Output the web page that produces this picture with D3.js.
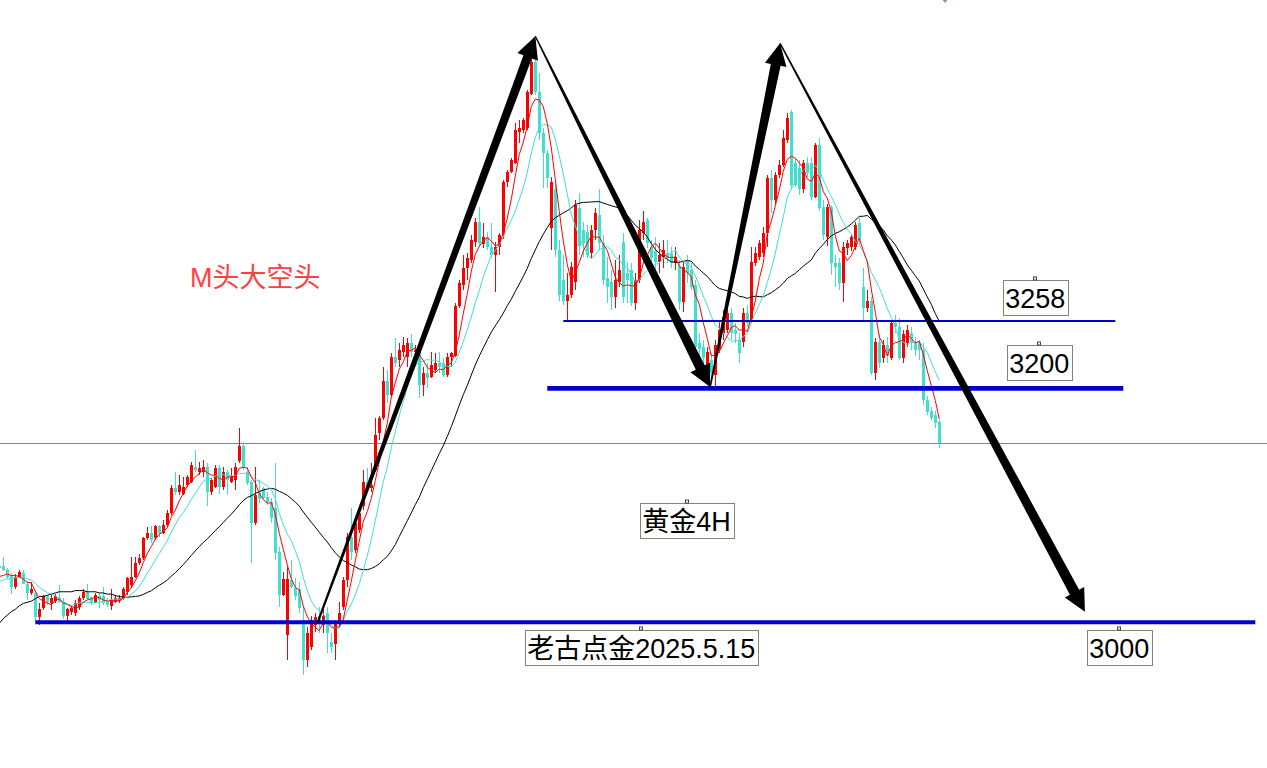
<!DOCTYPE html>
<html><head><meta charset="utf-8">
<script src="https://cdn.jsdelivr.net/npm/d3@7"></script>
<style>html,body{margin:0;padding:0;background:#fff;overflow:hidden}svg{display:block;background:#fff}</style>
</head><body>
<svg id="chart" width="1267" height="768"></svg>
<script>
// ---- DATA (gold 4H, [open, high, low, close]) ----
const candles = [
[3047,3049,3044,3045],[3047,3055,3043,3044],[3044,3045,3036,3038],[3039,3041,3023,3029],[3029,3040,3027,3038],
[3038,3044,3037,3042],[3041,3044,3032,3032],[3032,3034,3018,3024],[3024,3033,3022,3027],[3024,3026,3000,3003],
[3003,3015,2997,3010],[3011,3022,3009,3021],[3021,3022,3014,3016],[3015,3022,3009,3020],[3017,3023,3015,3021],
[3020,3031,3015,3016],[3016,3020,3002,3004],[3004,3011,2998,3010],[3008,3013,3005,3011],[3007,3018,3004,3015],
[3012,3021,3009,3020],[3020,3027,3018,3025],[3025,3032,3018,3019],[3020,3021,3014,3016],[3016,3024,3015,3022],
[3021,3024,3011,3018],[3021,3029,3014,3015],[3016,3020,3012,3014],[3013,3027,3009,3018],[3016,3022,3015,3020],
[3017,3022,3015,3020],[3020,3029,3018,3027],[3025,3038,3022,3037],[3031,3055,3028,3038],[3038,3055,3037,3050],
[3050,3057,3048,3054],[3054,3072,3052,3071],[3071,3080,3069,3075],[3075,3081,3067,3069],[3071,3082,3069,3081],
[3081,3082,3072,3075],[3075,3086,3074,3082],[3082,3095,3080,3092],[3092,3116,3091,3114],[3114,3127,3108,3110],
[3110,3125,3108,3116],[3109,3123,3108,3115],[3116,3125,3115,3123],[3119,3136,3118,3133],[3132,3146,3127,3129],
[3127,3136,3125,3131],[3127,3138,3123,3132],[3132,3135,3098,3110],[3110,3122,3108,3121],[3115,3133,3114,3131],
[3131,3133,3109,3115],[3115,3132,3112,3127],[3127,3129,3108,3121],[3119,3131,3118,3123],[3121,3135,3112,3132],
[3137,3165,3135,3150],[3150,3153,3129,3131],[3127,3132,3116,3118],[3119,3121,3050,3084],[3084,3132,3082,3108],
[3110,3121,3101,3104],[3114,3115,3104,3105],[3106,3110,3099,3102],[3102,3105,3084,3088],[3097,3135,3052,3058],
[3059,3063,3012,3022],[3022,3042,3021,3036],[2988,3046,2967,3036],[3035,3052,3028,3029],[3028,3037,3018,3021],
[3027,3033,3007,3011],[3001,3012,2954,2967],[2967,2995,2961,2990],[2978,3004,2975,3001],[2997,3007,2991,3003],
[3004,3012,2990,2998],[2997,3010,2990,3004],[3007,3012,2973,2990],[2982,2990,2973,2978],[2980,3001,2967,2998],
[2998,3016,2995,3007],[3012,3038,3009,3035],[3035,3075,3029,3072],[3072,3097,3052,3059],[3061,3088,3058,3084],
[3078,3095,3075,3092],[3098,3129,3095,3119],[3119,3131,3110,3114],[3114,3135,3110,3116],[3129,3174,3127,3159],
[3161,3175,3155,3174],[3174,3217,3172,3205],[3205,3215,3186,3193],[3193,3229,3192,3226],[3226,3242,3217,3221],
[3223,3238,3217,3232],[3230,3243,3226,3236],[3226,3242,3217,3238],[3238,3245,3226,3230],[3230,3236,3225,3232],
[3232,3236,3191,3202],[3202,3217,3192,3212],[3212,3221,3199,3208],[3209,3230,3208,3219],[3215,3229,3212,3221],
[3221,3230,3212,3217],[3221,3225,3209,3210],[3210,3229,3209,3226],[3226,3230,3217,3229],[3227,3272,3226,3269],
[3269,3292,3268,3289],[3287,3313,3283,3302],[3302,3315,3292,3310],[3309,3330,3306,3326],[3324,3345,3320,3341],
[3341,3354,3320,3323],[3322,3340,3319,3328],[3328,3333,3317,3320],[3320,3340,3310,3313],[3313,3324,3281,3320],
[3320,3332,3313,3330],[3330,3377,3327,3375],[3375,3386,3371,3384],[3384,3396,3383,3394],[3392,3426,3391,3420],
[3418,3428,3409,3422],[3420,3430,3417,3428],[3422,3454,3420,3452],[3451,3481,3450,3478],[3478,3497,3450,3452],
[3452,3469,3411,3417],[3417,3422,3370,3400],[3400,3403,3370,3379],[3336,3380,3317,3375],[3369,3374,3311,3317],
[3317,3326,3274,3279],[3292,3313,3270,3274],[3274,3298,3257,3279],[3279,3307,3276,3303],[3290,3360,3283,3356],
[3353,3366,3313,3321],[3334,3341,3311,3323],[3333,3339,3310,3313],[3315,3339,3310,3334],[3334,3353,3326,3349],
[3347,3369,3317,3323],[3323,3330,3287,3292],[3293,3311,3272,3286],[3290,3300,3266,3277],[3277,3309,3268,3292],
[3290,3313,3286,3300],[3324,3332,3272,3277],[3298,3307,3272,3292],[3300,3306,3269,3272],[3272,3298,3266,3292],
[3292,3343,3289,3334],[3332,3351,3326,3341],[3343,3345,3319,3323],[3320,3326,3306,3310],[3316,3328,3298,3307],
[3307,3323,3298,3313],[3311,3326,3302,3317],[3315,3326,3306,3310],[3315,3320,3302,3306],[3306,3320,3300,3311],
[3304,3309,3266,3273],[3273,3307,3264,3303],[3309,3313,3289,3298],[3300,3306,3283,3286],[3287,3292,3229,3234],
[3238,3246,3226,3233],[3234,3240,3221,3225],[3216,3234,3212,3230],[3223,3229,3206,3212],[3210,3240,3200,3236],
[3233,3257,3229,3249],[3246,3266,3240,3260],[3249,3268,3246,3263],[3263,3268,3240,3246],[3249,3255,3238,3245],
[3240,3246,3221,3229],[3239,3268,3234,3263],[3263,3270,3251,3255],[3257,3320,3255,3307],[3306,3320,3304,3315],
[3311,3326,3309,3323],[3315,3337,3311,3332],[3332,3381,3320,3379],[3379,3386,3349,3360],[3360,3384,3357,3381],
[3381,3394,3379,3390],[3390,3420,3388,3413],[3411,3434,3409,3430],[3435,3437,3369,3373],[3392,3396,3371,3373],
[3387,3394,3364,3369],[3369,3394,3366,3392],[3392,3397,3380,3383],[3392,3397,3360,3363],[3363,3409,3362,3407],
[3407,3413,3351,3353],[3354,3360,3326,3330],[3328,3357,3321,3354],[3354,3356,3296,3306],[3306,3313,3286,3303],
[3306,3310,3283,3289],[3289,3324,3273,3320],[3319,3326,3313,3323],[3320,3330,3316,3328],[3320,3341,3317,3339],
[3340,3345,3321,3326],[3286,3302,3257,3268],[3268,3283,3264,3274],[3274,3277,3210,3212],[3212,3242,3206,3239],
[3239,3245,3216,3221],[3225,3240,3221,3236],[3236,3243,3221,3227],[3225,3257,3223,3255],[3255,3262,3246,3251],
[3251,3259,3223,3225],[3225,3249,3221,3245],[3238,3253,3234,3249],[3246,3251,3232,3238],[3238,3243,3227,3232],
[3238,3240,3223,3232],[3232,3238,3185,3189],[3189,3192,3176,3179],[3180,3183,3172,3174],[3176,3180,3165,3169],
[3170,3172,3148,3152]
];
// moving-average values read for the first bars (window reaches before the visible range)
const ma5Lead  = [3038,3039,3040,3039];
const ma10Lead = [3034,3035,3036,3036,3037,3037,3037,3036,3035];
const ma30Lead = [2998,3002,3005,3008,3010,3013,3015,3016,3017,3019,3021,3021,3022,3023,3024,3025,3025,3025,3025,3026,3026,3026,3025,3025,3025,3024,3024,3023,3023];
// horizontal levels (price), their labels
const levelPrices = [3256.5, 3199, 2999];
const levelLabels = ["3258", "3200", "3000"];
// M-pattern path: [bar index, price]
const mPath = [[79.5,2998],[134,3500],[177.7,3200],[195.2,3494],[271.4,3008]];
// text notes
const noteTexts = ["黄金4H", "老古点金2025.5.15"];
const titleText = "M头大空头";

// ---- LAYOUT / STYLE ----
const W = 1267, H = 768;
const svg = d3.select("#chart");
const x = d3.scaleLinear().domain([0, 1]).range([-0.7, 3.3]);
const y = d3.scaleLinear().domain([3000, 3500]).range([621, 36.3]);
const UP = "#ff0000", DOWN = "#40e0d0", BLUE = "#0000cd";
const FONT = "'Liberation Sans','Noto Sans CJK SC',sans-serif";

const closes = candles.map(d => d[3]);
function sma(period, lead) {
  return closes.map((c, i) => i < period - 1 ? lead[i] : d3.mean(closes.slice(i - period + 1, i + 1)));
}

// current price line
const lastY = Math.round(y(closes[closes.length - 1])) + 0.5;
svg.append("line").attr("x1", 0).attr("x2", W).attr("y1", lastY).attr("y2", lastY)
  .attr("stroke", "#778899").attr("stroke-width", 1);

// candles
const g = svg.append("g").attr("shape-rendering", "crispEdges");
candles.forEach((d, i) => {
  const [o, h, l, c] = d;
  const col = c >= o ? UP : DOWN;
  const cx = Math.floor(x(i));
  const yh = Math.round(y(Math.max(h, o, c))), yl = Math.round(y(Math.min(l, o, c)));
  g.append("rect").attr("x", cx).attr("width", 1).attr("y", yh).attr("height", Math.max(1, yl - yh)).attr("fill", col);
  const bt = Math.round(y(Math.max(o, c))), bb = Math.round(y(Math.min(o, c)));
  g.append("rect").attr("x", cx - 1).attr("width", 3).attr("y", bt).attr("height", Math.max(1, bb - bt)).attr("fill", col);
});

// moving averages
const line = d3.line().x((d, i) => x(i)).y(d => y(d));
[[sma(30, ma30Lead), "#000"], [sma(10, ma10Lead), DOWN], [sma(5, ma5Lead), UP]].forEach(([vals, col]) => {
  svg.append("path").attr("d", line(vals)).attr("fill", "none").attr("stroke", col).attr("stroke-width", 1);
});

// horizontal levels
const levelSpans = [[141, 279, 2], [137, 281, 4.7], [9, 314, 4]];
levelPrices.forEach((p, i) => {
  const [a, b, w] = levelSpans[i];
  svg.append("line").attr("x1", x(a)).attr("x2", x(b)).attr("y1", y(p)).attr("y2", y(p))
    .attr("stroke", BLUE).attr("stroke-width", w);
});

// arrows (tapered shafts with heads)
function arrow(p0, p1, w0, w1, hl, hw) {
  const [x0, y0] = p0, [x1, y1] = p1;
  const len = Math.hypot(x1 - x0, y1 - y0);
  const dx = (x1 - x0) / len, dy = (y1 - y0) / len;
  const px = -dy, py = dx;
  const bx = x1 - dx * hl, by = y1 - dy * hl;
  const pts = [
    [x0 + px * w0 / 2, y0 + py * w0 / 2],
    [bx + px * w1 / 2, by + py * w1 / 2],
    [bx + px * hw, by + py * hw],
    [x1, y1],
    [bx - px * hw, by - py * hw],
    [bx - px * w1 / 2, by - py * w1 / 2],
    [x0 - px * w0 / 2, y0 - py * w0 / 2]
  ];
  svg.append("path").attr("d", "M" + pts.map(p => p.join(",")).join("L") + "Z").attr("fill", "#000");
}
const mPx = mPath.map(([k, p]) => [x(k), y(p)]);
const arrowW = [[2, 9], [1.4, 10], [1.6, 10], [1.4, 10.5]];
for (let i = 0; i < mPx.length - 1; i++) arrow(mPx[i], mPx[i + 1], arrowW[i][0], arrowW[i][1], 22, 11);

// title text
svg.append("text").attr("x", x(47.7)).attr("y", y(3285.5)).attr("fill", "#ff4040")
  .attr("font-family", FONT).attr("font-size", 27).text(titleText);

// boxed labels: [text, bar index of centre, price of top]
const boxes = [
  [levelLabels[0], 259, 3291.2], [levelLabels[1], 260, 3236.4], [levelLabels[2], 280, 2991.9],
  [noteTexts[0], 171.8, 3101.3], [noteTexts[1], 160.5, 2991.9]
];
boxes.forEach(([t, k, p]) => {
  const cx = x(k), top = Math.round(y(p)) + 0.5;
  const bg = svg.append("g");
  const rect = bg.append("rect");
  const tx = bg.append("text").attr("x", cx).attr("y", top + 27.5).attr("text-anchor", "middle")
    .attr("font-family", FONT).attr("font-size", 27).attr("fill", "#000").text(t);
  const tw = tx.node().getComputedTextLength();
  const bw = Math.round(tw + 5);
  const bx = Math.round(cx - bw / 2) + 0.5;
  rect.attr("x", bx).attr("y", top).attr("width", bw).attr("height", 35)
    .attr("fill", "#fff").attr("stroke", "#8a8078").attr("stroke-width", 1);
  bg.append("rect").attr("x", Math.round(cx) - 1.5).attr("y", top - 3.5).attr("width", 3).attr("height", 3)
    .attr("fill", "#fff").attr("stroke", "#444").attr("stroke-width", 1);
});

// small marker at top edge
svg.append("path").attr("d", "M942.5,0 L947.5,0 L945,3 Z").attr("fill", "#8a96a3");
</script>
</body></html>
